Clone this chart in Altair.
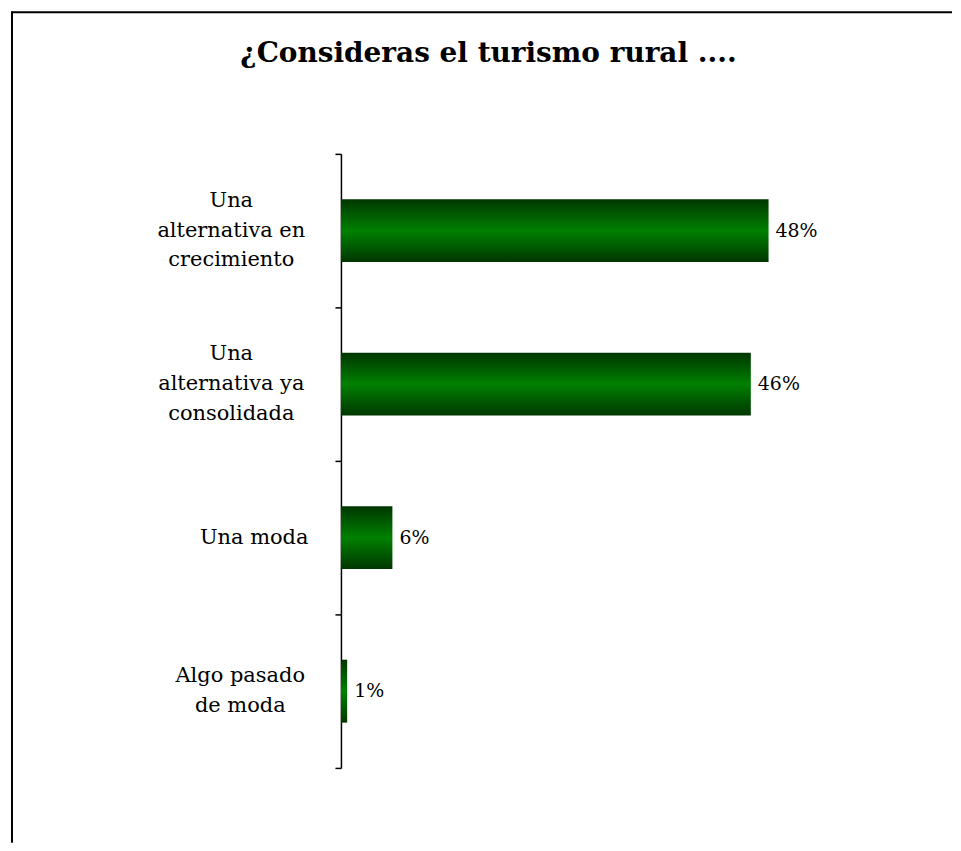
import altair as alt
import pandas as pd

categories = [
    "Una\nalternativa en\ncrecimiento",
    "Una\nalternativa ya\nconsolidada",
    "Una moda",
    "Algo pasado\nde moda",
]
shares = [0.482, 0.462, 0.058, 0.007]
title_text = "¿Consideras el turismo rural ...."

df = pd.DataFrame({"categoria": categories, "valor": shares})

FONT = "DejaVu Serif"
W, H = 534, 616
XMAX = 0.6
PX = W / XMAX  # pixels per unit share
LINE_H = 30
HALF_BAND = H / len(categories) / 2

green = alt.Gradient(
    gradient="linear",
    stops=[
        alt.GradientStop(color="#003600", offset=0),
        alt.GradientStop(color="#008000", offset=0.5),
        alt.GradientStop(color="#003600", offset=1),
    ],
    x1=0, x2=0, y1=0, y2=1,
)

y_enc = alt.Y(
    "categoria:N",
    sort=categories,
    title=None,
    scale=alt.Scale(paddingInner=0, paddingOuter=0),
    axis=alt.Axis(
        tickBand="extent",
        domainColor="black",
        domainWidth=1.5,
        tickColor="black",
        tickWidth=1.5,
        tickSize=6,
        labels=False,
    ),
)

x_scale = alt.Scale(domain=[0, XMAX])
x_enc = alt.X("valor:Q", axis=None, scale=x_scale)

bars = alt.Chart(df).mark_bar(
    color=green, height=alt.RelativeBandSize(0.41)
).encode(x=x_enc, y=y_enc)

labels = alt.Chart(df).mark_text(
    align="left", baseline="middle", dx=7, font=FONT, fontSize=19, color="black"
).encode(x=x_enc, y=alt.Y("categoria:N", sort=categories),
         text=alt.Text("valor:Q", format=".0%"))

# category labels: blocks right-aligned near the axis, lines centred within each block
cat_labels = alt.Chart(df).transform_calculate(
    lx=f"-(datum.categoria === 'Una moda' ? 87 : (slice(datum.categoria, 0, 4) === 'Algo' ? 101 : 110)) / {PX}",
    yo=f"{HALF_BAND} - (length(split(datum.categoria, '\\n')) - 1) * {LINE_H / 2}",
).mark_text(
    align="center", baseline="middle", font=FONT, fontSize=21, color="black",
    lineBreak="\n", lineHeight=LINE_H,
).encode(
    x=alt.X("lx:Q", scale=x_scale, axis=None),
    y=alt.Y("categoria:N", sort=categories),
    yOffset=alt.YOffset("yo:Q", scale=None),
    text="categoria:N",
)

one = pd.DataFrame({"t": [title_text]})
title_mark = alt.Chart(one).mark_text(
    font=FONT, fontSize=28, fontWeight="bold", color="black",
    align="center", baseline="alphabetic",
).encode(x=alt.value(148), y=alt.value(-92), text="t:N")

top_rule = alt.Chart(one).mark_rule(color="black", strokeWidth=2).encode(
    x=alt.value(-330), x2=alt.value(613), y=alt.value(-142)
)
left_rule = alt.Chart(one).mark_rule(color="black", strokeWidth=2).encode(
    x=alt.value(-330), y=alt.value(-143), y2=alt.value(691)
)

chart = alt.layer(bars, labels, cat_labels, title_mark, top_rule, left_rule).properties(
    width=W,
    height=H,
    padding={"left": 3, "top": 1, "right": 0, "bottom": 0},
).configure(background="white").configure_view(stroke=None)

chart.save("out.html", embed_options={"renderer": "svg", "actions": False})
